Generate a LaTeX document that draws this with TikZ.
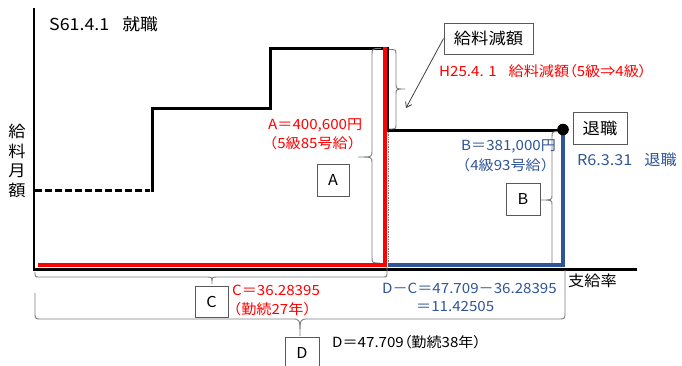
\documentclass[tikz,border=0pt]{standalone}
\usepackage{fontspec}
\setmainfont{Noto Sans CJK JP}[FakeStretch=1.08]
\newfontface\pfont{Noto Sans CJK JP}[FakeStretch=1.08,RawFeature=+palt]
\newcommand\plp{{\pfont （}}
\newcommand\prp{{\pfont ）}}
\usetikzlibrary{arrows.meta}
\definecolor{myblue}{RGB}{47,85,151}
\definecolor{brcgray}{RGB}{125,125,125}
\tikzset{
  lbl/.style={font=\fontsize{14}{17}\selectfont, inner sep=0pt, anchor=west},
  boxn/.style={draw=black!65, fill=white, line width=0.9pt, font=\fontsize{16}{18}\selectfont, inner sep=0pt},
  letterbox/.style={boxn, font=\fontsize{15}{18}\selectfont},
  brc/.style={draw=brcgray, line width=0.9pt},
  stepline/.style={line width=3pt},
}
\begin{document}
\begin{tikzpicture}[x=1pt,y=-1pt]
\useasboundingbox (0,0) rectangle (682,365);
% axes
\draw[line width=2.5pt] (34,8) -- (34,269.5) -- (637,269.5);
% dashed initial salary
\draw[stepline, dash pattern=on 7pt off 3pt] (35,190) -- (150,190);
% salary steps
\draw[stepline] (152,191.5) -- (152,108) -- (270,108) -- (270,48) -- (387,48) -- (387,130) -- (563,130);
% gray dotted
\draw[brcgray, line width=0.7pt, densely dotted] (388.5,132) -- (388.5,263);
% braces
% A brace (tip left)
\draw[brc] (381,48.5) .. controls (372,48.5) .. (372,55) -- (372,151) .. controls (372,157) .. (358,157) .. controls (372,157) .. (372,163) -- (372,257) .. controls (372,263) .. (380,263);
% reduction brace (tip right)
\draw[brc] (389,49.5) .. controls (396,49.5) .. (396,55) -- (396,84) .. controls (396,89) .. (405,89) .. controls (396,89) .. (396,94) -- (396,124) .. controls (396,129) .. (389,129);
% B brace (tip left)
\draw[brc] (560,131.5) .. controls (552,131.5) .. (552,137) -- (552,195) .. controls (552,200) .. (541,200) .. controls (552,200) .. (552,205) -- (552,265);
% C brace (tip down)
\draw[brc] (35,272) .. controls (35,277) .. (40,277) -- (207,277) .. controls (212,277) .. (212,284) .. controls (212,277) .. (217,277) -- (382,277) .. controls (387,277) .. (387,272) -- (387,267);
% D brace (tip down)
\draw[brc] (35,293) -- (35,312) .. controls (35,319) .. (42,319) -- (292,319) .. controls (300,319) .. (300,336) .. controls (300,319) .. (308,319) -- (558,319) .. controls (565,319) .. (565,312) -- (565,270);
% red and blue
\draw[red, line width=4.5pt] (38,265) -- (385,265) -- (385,47);
\draw[myblue, line width=4pt] (387.5,265) -- (563,265) -- (563,130);
\fill (563,129.5) circle (5.8);
% texts
\node[lbl, font=\fontsize{16.5}{18}\selectfont] (start) at (49,24) {S61.4.1\hspace{13pt}就職};
\node[font=\fontsize{16}{19.5}\selectfont, align=center, inner sep=0pt] (ylab) at (17,161) {給\\料\\月\\額};
\node[boxn, minimum width=89pt, minimum height=31pt] (gen) at (488.5,38.5) {給料減額};
\node[lbl, text=red] (h25) at (439,71) {H25.4. 1\hspace{12pt}給料減額\plp 5級⇒4級\prp};
\node[boxn, minimum width=54pt, minimum height=32pt] (tai) at (600,128) {退職};
\node[lbl, text=myblue, font=\fontsize{15}{17}\selectfont] (r6) at (577,160) {R6.3.31\hspace{12pt}退職};
\node[lbl, text=red] (a1) at (268,125) {A＝400,600円};
\node[lbl, text=red] (a2) at (262,143) {（5級85号給）};
\node[lbl, text=myblue] (b1) at (461,146) {B＝381,000円};
\node[lbl, text=myblue] (b2) at (455,165) {（4級93号給）};
\node[lbl, text=red] (c1) at (232,290) {C＝36.28395};
\node[lbl, text=red] (c2) at (226,309) {（勤続27年）};
\node[lbl, text=myblue] (dc1) at (382,288) {D－C＝47.709－36.28395};
\node[lbl, text=myblue] (dc2) at (416,307) {＝11.42505};
\node[lbl, font=\fontsize{15}{17}\selectfont] (shi) at (568,281) {支給率};
\node[lbl] (d1) at (332,342) {D＝47.709\plp 勤続38年\prp};
\node[letterbox, minimum width=32pt, minimum height=32pt] (A) at (333,180) {A};
\node[letterbox, minimum width=34pt, minimum height=32pt] (B) at (523,199) {B};
\node[letterbox, minimum width=33pt, minimum height=31pt] (C) at (211.5,301.5) {C};
\node[letterbox, minimum width=34pt, minimum height=32pt] (D) at (302,353) {D};
% arrow
\coordinate (arr) at (406,108);
\draw[black!75, line width=0.8pt, -{Straight Barb[length=5pt,width=7pt]}] (gen.west) -- (arr);
\end{tikzpicture}
\end{document}
